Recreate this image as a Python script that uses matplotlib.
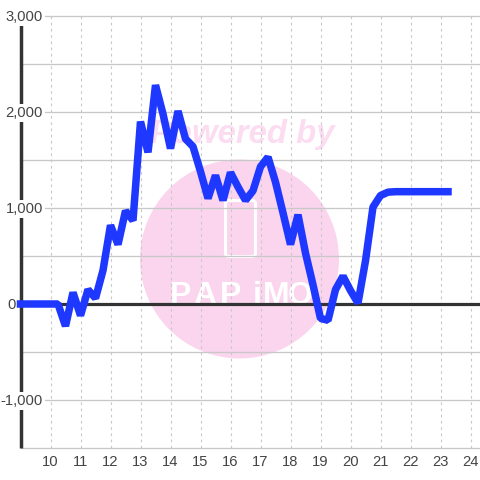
import numpy as np
from matplotlib import pyplot as plt
from matplotlib.patches import Circle, FancyBboxPatch
from matplotlib.transforms import ScaledTranslation

plt.rcParams['font.family'] = ['Liberation Sans', 'DejaVu Sans']

# one reading every 15 minutes, starting at 9:00
hours = np.arange(58) * 0.25 + 9
values = [0, 0, 0, 0, 0, 0, -230, 120, -120, 150, 60, 350,
          820, 620, 970, 870, 1900, 1580, 2280, 1980, 1620, 2010, 1720, 1640,
          1380, 1100, 1340, 1080, 1370, 1220, 1080, 1180, 1430, 1530, 1270, 950,
          620, 930, 530, 200, -150, -170, 150, 290, 140, 10, 450, 1010,
          1130, 1165, 1170, 1170, 1170, 1170, 1170, 1170, 1170, 1170]

x_ticks = list(range(10, 25))
x_labels = [str(h) for h in x_ticks]
y_grid = [-1500, -1000, -500, 0, 500, 1000, 1500, 2000, 2500, 3000]
y_ticks = [3000, 2000, 1000, 0, -1000]
y_labels = ['3,000', '2,000', '1,000', '0', '-1,000']

W = 480
fig = plt.figure(figsize=(4.8, 4.8), dpi=100, facecolor='white')

# watermark sits behind the chart, drawn in pixel coords
bg = fig.add_axes([0, 0, 1, 1])
bg.set_xlim(0, W)
bg.set_ylim(W, 0)
bg.axis('off')
pink = '#fbd5ee'
bg.add_patch(Circle((239.5, 259), 99.5, fc=pink, ec='none'))
bg.add_patch(FancyBboxPatch((225.5, 200.5), 30, 56, boxstyle='round,pad=0,rounding_size=3',
                            fc='none', ec='white', lw=2.2))
bg.text(242.5, 134, 'Powered by', color='#fcdcf1', fontsize=23.7, fontweight='bold',
        fontstyle='italic', ha='center', va='center')
for ch, px in zip('PAPiMO', [181, 205, 231, 257, 276, 300]):
    bg.text(px, 304, ch, color='white', fontsize=23, fontweight='bold',
            ha='center', va='baseline')

ax = fig.add_axes([20.5 / W, 1 - 448 / W, (W - 20.5) / W, (448 - 16) / W])
ax.set_facecolor('none')
ax.set_xlim(9, 9 + (W - 20.5) / 30)
ax.set_ylim(-1500, 3000)
for s in ax.spines.values():
    s.set_visible(False)

ax.set_xticks(x_ticks)
ax.set_xticklabels(x_labels, fontsize=10.6, color='#444444')
shift = ScaledTranslation(0.7 / 72, 0, fig.dpi_scale_trans)
for t in ax.get_xticklabels():
    t.set_transform(t.get_transform() + shift)
ax.set_yticks([])
ax.tick_params(axis='x', length=0, pad=5)
ax.vlines(x_ticks, -1500, 3000, color='#c8c8c8', lw=0.8, ls=(0, (2.4, 3.2)), zorder=1)
ax.hlines(y_grid, 9, ax.get_xlim()[1], color='#c8c8c8', lw=0.95, zorder=1, clip_on=False)

ax.axvline(9, color='#333333', lw=2.5, zorder=2, clip_on=False, solid_capstyle='butt')
ax.axhline(0, color='#333333', lw=2.3, zorder=2)
ax.plot(hours, values, color='#1e38ff', lw=5.4, solid_joinstyle='bevel',
        solid_capstyle='projecting', zorder=3, clip_on=False)

# labels have a white box that hides the axis line behind them
for v, lab in zip(y_ticks, y_labels):
    off = -4.5 if v == 0 else 22.5
    ax.annotate(lab, (9, v), xytext=(off, -1), textcoords='offset pixels',
                ha='right', va='center', fontsize=10.6, color='#444444', zorder=5,
                annotation_clip=False,
                bbox=None if v == 0 else dict(fc='white', ec='none', pad=1.5))

fig.savefig('out.png', dpi=100)
